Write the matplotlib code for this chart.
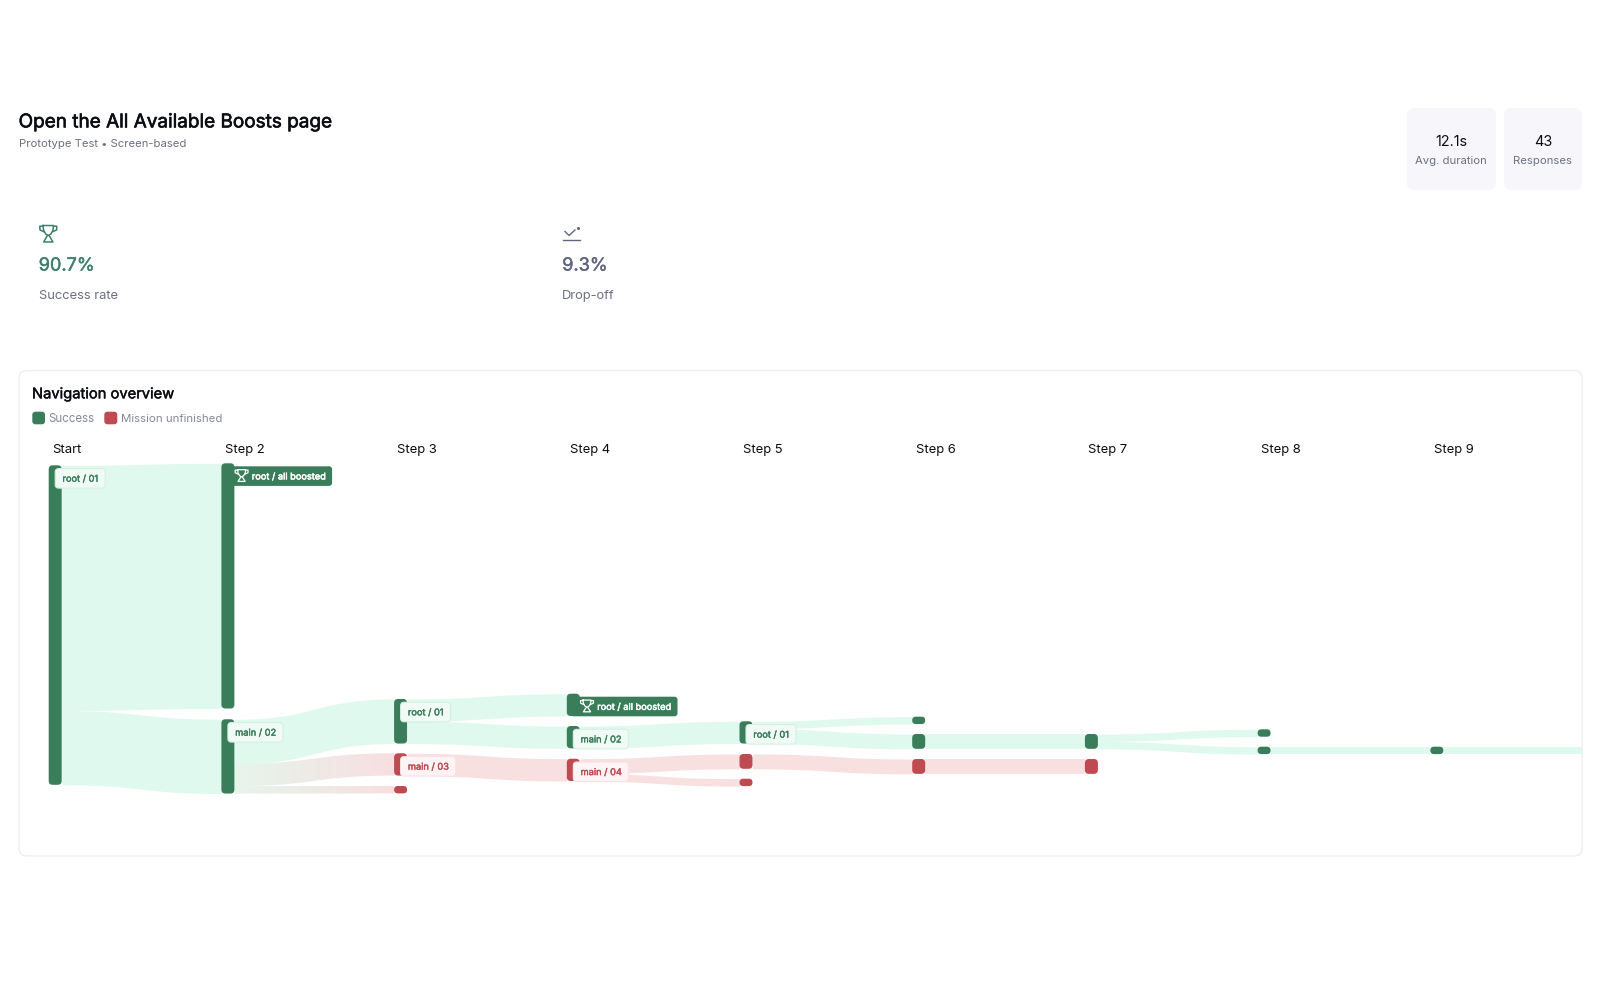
import numpy as np
import matplotlib
matplotlib.use("Agg")
import matplotlib.pyplot as plt
from matplotlib.patches import FancyBboxPatch
from matplotlib.colors import LinearSegmentedColormap
import matplotlib.patheffects as pe

plt.rcParams['font.family'] = ['Inter', 'DejaVu Sans']

# ---- data ----
title = "Open the All Available Boosts page"
subtitle = "Prototype Test • Screen-based"
step_labels = ["Start", "Step 2", "Step 3", "Step 4", "Step 5", "Step 6", "Step 7", "Step 8", "Step 9"]

node_step  = [0, 1, 1, 2, 2, 2, 3, 3, 3, 4, 4, 4, 5, 5, 5, 6, 6, 7, 7, 8]
node_top   = [0.27, 0, 34.45, 31.72, 39.03, 43.43, 31.01, 35.36, 39.76,
              34.72, 39.12, 42.45, 34.10, 36.43, 39.80, 36.43, 39.80, 35.80, 38.14, 38.14]
node_count = [43, 33, 10, 6, 3, 1, 3, 3, 3, 3, 2, 1, 1, 2, 2, 2, 2, 1, 1, 1]
node_kind  = ['g', 'g', 'g', 'g', 'r', 'r', 'g', 'g', 'r', 'g', 'r', 'r', 'g', 'g', 'r', 'g', 'r', 'g', 'g', 'g']
node_label = ["root / 01", "root / all boosted", "main / 02", "root / 01", "main / 03", None,
              "root / all boosted", "main / 02", "main / 04", "root / 01", None, None,
              None, None, None, None, None, None, None, None]

flow_src   = [0, 0, 2, 2, 2, 3, 3, 4, 7, 8, 8, 9, 9, 10, 13, 14, 15, 15, 18]
flow_dst   = [1, 2, 3, 4, 5, 6, 7, 8, 9, 10, 11, 12, 13, 14, 15, 16, 17, 18, 19]
flow_count = [33, 10, 6, 3, 1, 3, 3, 3, 3, 2, 1, 1, 2, 2, 2, 2, 1, 1, 1]

exit_node, exit_count = 19, 1

stat_values = ["12.1s", "43"]
stat_names = ["Avg. duration", "Responses"]
kpi_values = ["90.7%", "9.3%"]
kpi_names = ["Success rate", "Drop-off"]
legend_names = ["Success", "Mission unfinished"]

# ---- style ----
GREEN, RED = "#3A7D5A", "#C04A52"
FLOW_G, FLOW_R = "#E0F9EE", "#F8DFE0"
INK, MUTED, LEG = "#0B0D12", "#6C6F80", "#85879A"
STEP_PX, UNIT_PX, X0_PX, Y0_PX = 172.7, 7.43, 48.7, 463.3
NODE_W = 13.0
RIGHT_PX = 1582.0

fig = plt.figure(figsize=(16, 10), dpi=100, facecolor="white")

# sankey axes: x in steps, y in responses
L, R, T, B = 19.0, RIGHT_PX, 450.0, 830.0
ax = fig.add_axes([L / 1600, 1 - B / 1000, (R - L) / 1600, (B - T) / 1000], zorder=1)
ax.set_xlim((L - X0_PX) / STEP_PX, (R - X0_PX) / STEP_PX)
ax.set_ylim((B - Y0_PX) / UNIT_PX, (T - Y0_PX) / UNIT_PX)
ax.axis("off")

# overlay axes in figure pixels
ov = fig.add_axes([0, 0, 1, 1], zorder=2)
ov.set_xlim(0, 1600)
ov.set_ylim(1000, 0)
ov.axis("off")
ov.patch.set_alpha(0)


def to_px(step, units):
    d = ax.transData.transform((step, units))
    return d[0], 1000 - d[1]


def rbox(a, x0, y0, x1, y1, r, fc, ec="none", lw=0, z=3):
    r = min(r, (y1 - y0) / 2, (x1 - x0) / 2)
    p = FancyBboxPatch((x0, y0), x1 - x0, y1 - y0, boxstyle=f"round,pad=0,rounding_size={r}",
                       fc=fc, ec=ec, lw=lw, zorder=z)
    a.add_patch(p)
    return p


def put(x, y, s, size, color, ha="left", bold=0.0, z=6):
    # y is the middle of the capital height
    base = y + 0.5 * 0.727 * size * 100 / 72
    t = ov.text(x, base, s, fontsize=size, color=color, ha=ha, va="baseline", zorder=z)
    if bold:
        t.set_path_effects([pe.withStroke(linewidth=bold, foreground=color)])
    return t


def trophy(cx, top, w, h, color, lw=1.2, z=6):
    x = lambda u: cx + u * w / 2
    y = lambda v: top + v * h
    ov.plot([x(-.62), x(.62), x(.55), x(.3), x(0), x(-.3), x(-.55), x(-.62)],
            [y(.03), y(.03), y(.3), y(.52), y(.6), y(.52), y(.3), y(.03)],
            color=color, lw=lw, zorder=z, solid_joinstyle="round")
    ov.plot([x(-.62), x(-1), x(-.98), x(-.55)], [y(.07), y(.07), y(.28), y(.38)], color=color, lw=lw, zorder=z)
    ov.plot([x(.62), x(1), x(.98), x(.55)], [y(.07), y(.07), y(.28), y(.38)], color=color, lw=lw, zorder=z)
    ov.plot([x(-.1), x(-.55), x(.55), x(.1)], [y(.6), y(.97), y(.97), y(.6)], color=color, lw=lw, zorder=z)


# ---- flows ----
used_out = [0.0] * len(node_top)
used_in = [0.0] * len(node_top)
w_step = NODE_W / STEP_PX
t = np.linspace(0, 1, 80)
cm = LinearSegmentedColormap.from_list("gr", ["#E6F5EC", FLOW_R])

for s, d, c in zip(flow_src, flow_dst, flow_count):
    x0, x1 = node_step[s] + w_step, node_step[d]
    y0 = node_top[s] + used_out[s]
    y1 = node_top[d] + used_in[d]
    used_out[s] += c
    used_in[d] += c
    xm = (x0 + x1) / 2
    xs = x0 * (1 - t) ** 3 + 3 * xm * (1 - t) ** 2 * t + 3 * xm * (1 - t) * t ** 2 + x1 * t ** 3
    yb = y0 * (1 - t) ** 3 + 3 * y0 * (1 - t) ** 2 * t + 3 * y1 * (1 - t) * t ** 2 + y1 * t ** 3
    if node_kind[s] == node_kind[d]:
        ax.fill_between(xs, yb, yb + c, color=FLOW_G if node_kind[d] == 'g' else FLOW_R, lw=0, zorder=2)
    else:
        poly = ax.fill_between(xs, yb, yb + c, color="none", lw=0, zorder=2)
        grad = np.linspace(0, 1, 256).reshape(1, -1)
        ylo, yhi = min(y0, y1) - 1, max(y0, y1) + c + 1
        im = ax.imshow(grad, extent=(x0, x1, yhi, ylo), aspect="auto", cmap=cm, zorder=2, interpolation="bilinear")
        im.set_clip_path(poly.get_paths()[0], ax.transData)

# flow leaving the last node
x0 = node_step[exit_node] + w_step
ax.fill_between([x0, ax.get_xlim()[1]], node_top[exit_node], node_top[exit_node] + exit_count,
                color=FLOW_G, lw=0, zorder=2)
ax.set_xlim((L - X0_PX) / STEP_PX, (R - X0_PX) / STEP_PX)
ax.set_ylim((B - Y0_PX) / UNIT_PX, (T - Y0_PX) / UNIT_PX)

# ---- nodes and their labels ----
for s, top, c, k, lab in zip(node_step, node_top, node_count, node_kind, node_label):
    x, y0 = to_px(s, top)
    _, y1 = to_px(s, top + c)
    col = GREEN if k == 'g' else RED
    rbox(ov, x, y0, x + NODE_W, y1, 4, col, z=3)
    if lab is None:
        continue
    if "boosted" in lab:
        rbox(ov, x + 4, y0 + 3.0, x + 110.7, y0 + 22.6, 3, GREEN, z=4)
        trophy(x + 20.2, y0 + 6.0, 13, 12.5, "white", lw=0.9)
        put(x + 30.4, y0 + 12.8, lab, 6.65, "white", bold=0.35)
    else:
        cw = 50 if lab.startswith("root") else 55
        tint = "#F1FBF6" if k == 'g' else "#FEF4F5"
        edge = "#D5F0E3" if k == 'g' else "#F9E2E4"
        rbox(ov, x + 6.5, y0 + 3.3, x + 6.5 + cw, y0 + 22.8, 3.5, tint, edge, 0.8, z=4)
        put(x + 13.8, y0 + 13.0, lab, 6.65, col, bold=0.3)

# ---- navigation card ----
rbox(ov, 19, 370.5, RIGHT_PX, 856, 8, "none", "#EDEEF0", 1.0, z=5)
put(32, 393, "Navigation overview", 10.6, INK, bold=0.3)
rbox(ov, 32.3, 411.7, 45, 424.3, 3, GREEN)
put(48.7, 418, legend_names[0], 8.3, LEG)
rbox(ov, 104.3, 411.7, 117.3, 424.3, 3, RED)
put(120.7, 418, legend_names[1], 8.25, LEG)
for i, s in enumerate(step_labels):
    x, _ = to_px(i, 0)
    put(x + 3.3, 448, s, 9.35, INK)

# ---- header ----
put(18.6, 120.5, title, 13.65, INK, bold=0.45)
put(18.6, 143.3, subtitle, 8.1, MUTED)

for (x0, x1), v, n in zip([(1406.7, 1496), (1504, 1582)], stat_values, stat_names):
    rbox(ov, x0, 108, x1, 190, 8, "#F7F7FB")
    put((x0 + x1) / 2, 141, v, 10.4, INK, ha="center")
    put((x0 + x1) / 2, 160, n, 8.15, MUTED, ha="center")

# ---- KPIs ----
KPI_G, KPI_N = "#3F7F6B", "#62667F"
trophy(48.3, 225, 17, 17.5, KPI_G, lw=1.1)
put(38.7, 264, kpi_values[0], 13.05, KPI_G, bold=0.3)
put(38.7, 294, kpi_names[0], 9.3, MUTED)

ov.plot([563, 580], [239.5, 239.5], color=KPI_N, lw=1.0, zorder=6)
ov.plot([565, 569, 575], [231.5, 235.5, 230], color=KPI_N, lw=1.0, zorder=6)
ov.plot([577.5], [228], marker="o", ms=1.2, color=KPI_N, zorder=6)
put(562.2, 264, kpi_values[1], 13.05, KPI_N, bold=0.3)
put(562.2, 294, kpi_names[1], 9.3, MUTED)

fig.savefig("out.png", dpi=100, facecolor="white")
